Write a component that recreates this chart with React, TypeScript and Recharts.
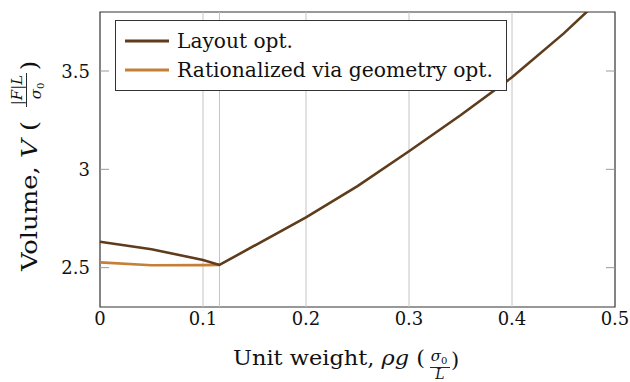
import React from 'react';
import { LineChart, Line, XAxis, YAxis, ReferenceLine, ReferenceArea, Legend, Label } from 'recharts';

const CHART_W = 630;
const CHART_H = 382;
const MARGIN = { top: 12, right: 15, bottom: 30, left: 0 };
const Y_AXIS_W = 100;
const PLOT_LEFT = MARGIN.left + Y_AXIS_W;
const PLOT_RIGHT = CHART_W - MARGIN.right;

const SERIF = '"DejaVu Serif", "Liberation Serif", serif';
const font = (size: number, italic = false) => ({
  fontFamily: SERIF,
  fontSize: size,
  fontStyle: italic ? 'italic' : 'normal',
});

// Layout optimisation: volume against unit weight
const layoutWeight = [0, 0.05, 0.1, 0.116, 0.2, 0.25, 0.3, 0.35, 0.4, 0.45, 0.5];
const layoutVolume = [2.632, 2.594, 2.539, 2.514, 2.756, 2.915, 3.092, 3.275, 3.468, 3.69, 3.935];

// Same structures after rationalisation by geometry optimisation
const rationalWeight = [0, 0.05, 0.1, 0.116];
const rationalVolume = [2.527, 2.512, 2.513, 2.514];

const seriesNames = ['Layout opt.', 'Rationalized via geometry opt.'];
const seriesColors = ['#5e3c1c', '#c67f37'];

const xTicks = [0, 0.1, 0.2, 0.3, 0.4, 0.5];
const yTicks = [2.5, 3, 3.5];
const gridWeights = [0.1, 0.116, 0.2, 0.3, 0.4];

const layoutData = layoutWeight.map((w, i) => ({ w, v: layoutVolume[i] }));
const rationalData = rationalWeight.map((w, i) => ({ w, v: rationalVolume[i] }));

const XTick = ({ x, y, payload }: any) => (
  <text x={x} y={y} dy={18} textAnchor="middle" style={font(18)} fill="#111">
    {String(payload.value)}
  </text>
);

// y ticks point inwards on both the left and right frame edges
const YTick = ({ y, payload }: any) => (
  <g>
    <line x1={PLOT_LEFT} x2={PLOT_LEFT + 9} y1={y} y2={y} stroke="#9a9a9a" />
    <line x1={PLOT_RIGHT - 9} x2={PLOT_RIGHT} y1={y} y2={y} stroke="#9a9a9a" />
    <text x={PLOT_LEFT - 10} y={y} dy={6.5} textAnchor="end" style={font(18)} fill="#111">
      {String(payload.value)}
    </text>
  </g>
);

const XTitle = () => (
  <g fill="#111">
    <text x={233} y={365} style={font(21)} textLength={192} lengthAdjust="spacingAndGlyphs">
      Unit weight, <tspan style={font(21, true)}>ρg</tspan> (
    </text>
    <text x={439} y={361} style={font(15, true)} textAnchor="middle">
      σ<tspan style={font(10)} dy={3}>0</tspan>
    </text>
    <line x1={430} x2={450} y1={367.5} y2={367.5} stroke="#111" strokeWidth={0.9} />
    <text x={440} y={378.5} style={font(14, true)} textAnchor="middle">L</text>
    <text x={451} y={367} style={font(21)}>)</text>
  </g>
);

const YTitle = () => (
  <g fill="#111" transform="translate(37, 271) rotate(-90)">
    <text x={0} y={0} style={font(23)} textLength={150} lengthAdjust="spacingAndGlyphs">
      Volume, <tspan style={font(23, true)}>V</tspan> (
    </text>
    <text x={181} y={-15} style={font(15, true)} textAnchor="middle">
      |F|L
    </text>
    <line x1={164} x2={198} y1={-10.5} y2={-10.5} stroke="#111" strokeWidth={0.9} />
    <text x={180} y={4} style={font(15, true)} textAnchor="middle">
      σ<tspan style={font(10)} dy={3}>0</tspan>
    </text>
    <text x={201} y={0} style={font(23)}>)</text>
  </g>
);

const LegendBox = () => (
  <svg width={392} height={72} style={{ display: 'block' }}>
    <rect x={0.5} y={0.5} width={391} height={70} fill="#fff" stroke="#333" />
    {seriesNames.map((name, i) => (
      <g key={name}>
        <line x1={10} x2={54} y1={21 + i * 29} y2={21 + i * 29} stroke={seriesColors[i]} strokeWidth={3} />
        <text
          x={62}
          y={28 + i * 29}
          style={font(20)}
          fill="#111"
          textLength={i === 0 ? 116 : 316}
          lengthAdjust="spacingAndGlyphs"
        >
          {name}
        </text>
      </g>
    ))}
  </svg>
);

export default function App() {
  return (
    <div style={{ position: 'absolute', left: 0, top: 0, width: CHART_W, height: CHART_H, background: '#fff' }}>
      <LineChart width={CHART_W} height={CHART_H} margin={MARGIN}>
        <XAxis
          dataKey="w"
          type="number"
          domain={[0, 0.5]}
          ticks={xTicks}
          height={45}
          tickLine={false}
          axisLine={false}
          tickSize={0}
          tickMargin={0}
          tick={<XTick />}
        >
          <Label content={() => <XTitle />} />
        </XAxis>
        <YAxis
          type="number"
          domain={[2.3, 3.8]}
          allowDataOverflow
          ticks={yTicks}
          width={Y_AXIS_W}
          tickLine={false}
          axisLine={false}
          tickSize={0}
          tickMargin={0}
          tick={<YTick />}
        >
          <Label content={() => <YTitle />} />
        </YAxis>
        {gridWeights.map((w) => (
          <ReferenceLine key={w} x={w} stroke="#c4c4c4" strokeWidth={1} />
        ))}
        <Line
          data={rationalData}
          dataKey="v"
          type="linear"
          stroke={seriesColors[1]}
          strokeWidth={2.6}
          dot={false}
          activeDot={false}
          isAnimationActive={false}
        />
        <Line
          data={layoutData}
          dataKey="v"
          type="linear"
          stroke={seriesColors[0]}
          strokeWidth={2.6}
          dot={false}
          activeDot={false}
          isAnimationActive={false}
        />
        <ReferenceArea x1={0} x2={0.5} y1={2.3} y2={3.8} fill="none" stroke="#333" strokeWidth={1.2} />
        <Legend
          layout="horizontal"
          verticalAlign="middle"
          content={() => <LegendBox />}
          wrapperStyle={{ position: 'absolute', left: 115, top: 20, width: 392, height: 72 }}
        />
      </LineChart>
    </div>
  );
}
